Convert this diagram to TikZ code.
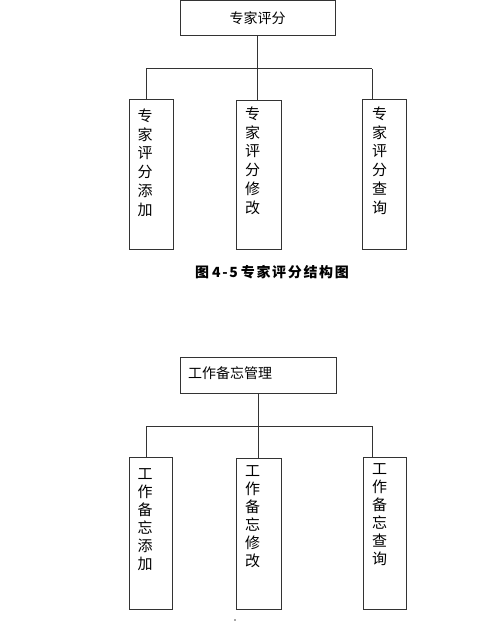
\documentclass[tikz,border=0pt]{standalone}
\usepackage{fontspec}
\newfontfamily\cjk{Noto Sans CJK SC}
\newfontfamily\capfont[LetterSpace=12]{Noto Sans CJK SC}
\usetikzlibrary{calc}
\begin{document}
\begin{tikzpicture}[x=1pt,y=-1pt,
  box/.style={draw=black!80, line width=1pt, inner sep=0pt},
  conn/.style={draw=black!80, line width=1pt},
  vtext/.style={font=\cjk\fontsize{15}{18.8}\selectfont, align=center, inner sep=0pt, anchor=north},
  htext/.style={font=\cjk\fontsize{14}{16}\selectfont, inner sep=0pt}]
\useasboundingbox (0,0) rectangle (500,623);
% ---- top figure ----
\node[box, minimum width=155, minimum height=35, font=\cjk\fontsize{14}{16}\selectfont] (t1) at (257.5,18.5) {专家评分};
\node[box, minimum width=44, minimum height=149] (c1) at (151,174.5) {};
\node[box, minimum width=45, minimum height=148] (c2) at (258.5,175) {};
\node[box, minimum width=44, minimum height=149] (c3) at (384.7,174.5) {};
\coordinate (h1L) at (146,69);
\coordinate (h1R) at (372,69);
\draw[conn] (h1L) -- (h1R);
\draw[conn] (t1.south) -- (t1.south |- c2.north);
\draw[conn] (h1L) -- (h1L |- c1.north);
\draw[conn] (h1R) -- (h1R |- c3.north);
\node[vtext] (c1t) at (145,108.5) {专\\家\\评\\分\\添\\加};
\node[vtext] (c2t) at (252.5,106.5) {专\\家\\评\\分\\修\\改};
\node[vtext] (c3t) at (379.5,106.5) {专\\家\\评\\分\\查\\询};
\node[inner sep=0pt, font=\capfont\bfseries\fontsize{14}{16}\selectfont] (cap) at (272,272) {图\hspace{3pt}4-5\hspace{3pt}专家评分结构图};
% ---- bottom figure ----
\node[box, minimum width=156, minimum height=36] (t2) at (258,375) {};
\node[htext, anchor=west] (t2t) at (188,373) {工作备忘管理};
\node[box, minimum width=43, minimum height=152] (c4) at (150.5,533) {};
\node[box, minimum width=44.3, minimum height=151] (c5) at (259,533.5) {};
\node[box, minimum width=43.7, minimum height=152] (c6) at (385,533) {};
\coordinate (h2L) at (146,426);
\coordinate (h2R) at (372,426);
\draw[conn] (h2L) -- (h2R);
\draw[conn] (t2.south) -- (t2.south |- c5.north);
\draw[conn] (h2L) -- (h2L |- c4.north);
\draw[conn] (h2R) -- (h2R |- c6.north);
\node[vtext, font=\cjk\fontsize{15}{18}\selectfont] (c4t) at (145,468.5) {工\\作\\备\\忘\\添\\加};
\node[vtext, font=\cjk\fontsize{15}{18}\selectfont] (c5t) at (252.5,465) {工\\作\\备\\忘\\修\\改};
\node[vtext, font=\cjk\fontsize{15}{18}\selectfont] (c6t) at (379.5,463.5) {工\\作\\备\\忘\\查\\询};
\fill[black!70] (235,620) circle (0.8);
\end{tikzpicture}
\end{document}
